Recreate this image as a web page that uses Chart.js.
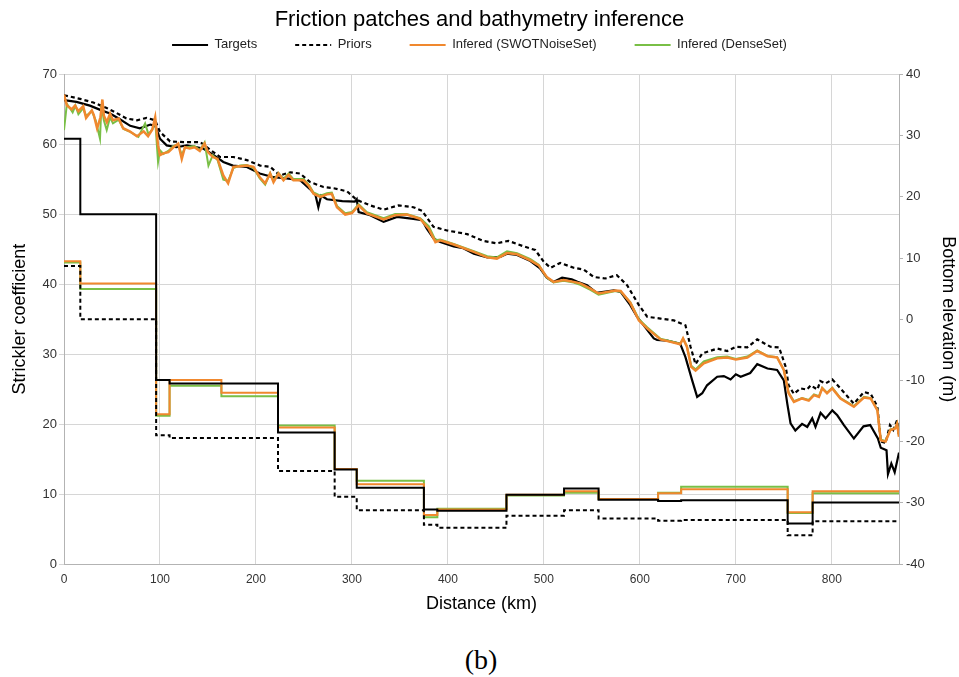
<!DOCTYPE html>
<html>
<head>
<meta charset="utf-8">
<title>Friction patches and bathymetry inference</title>
<script src="https://cdn.jsdelivr.net/npm/chart.js@4.4.1/dist/chart.umd.min.js"></script>
<style>
  body { margin: 0; background: #fff; }
  #wrap { position: relative; width: 959px; height: 625px; }
  #tag { position: absolute; left: 0; top: 643px; width: 962px; text-align: center;
         font-family: "Liberation Serif", serif; font-size: 28px; line-height: 34px; color: #000; }
</style>
</head>
<body>
<div id="wrap"><canvas id="chart"></canvas></div>
<div id="tag">(b)</div>
<script>
// friction patches: start of each patch (km), last entry is the end of the river
const patchKm = [0, 17, 96, 110, 164, 223, 282, 305, 375, 389, 461, 521, 557, 619, 643, 754, 780, 870];
// Strickler coefficient per patch
const targetK = [60.8, 50, 26.3, 25.8, 25.8, 18.8, 13.5, 10.9, 7.8, 7.6, 9.9, 10.8, 9.2, 9.0, 9.1, 5.8, 8.8];
const priorK  = [42.6, 35, 18.4, 18.0, 18.0, 13.3, 9.6, 7.7, 5.6, 5.2, 6.9, 7.7, 6.5, 6.2, 6.3, 4.1, 6.1];
const swotK   = [43.3, 40.1, 21.4, 26.3, 24.5, 19.5, 13.6, 11.4, 7.0, 7.8, 9.9, 10.4, 9.3, 10.1, 10.7, 7.4, 10.4];
const denseK  = [43.1, 39.3, 21.2, 25.5, 24.0, 19.8, 13.6, 11.9, 6.7, 7.9, 9.8, 10.2, 9.3, 10.2, 11.05, 7.3, 10.1];

// bottom elevation profiles [km, m]
const targetBed = [[0,35.8],[13,35.5],[27,34.9],[41,34.0],[48,33.6],[57,32.8],[69,31.6],[79,31.2],[90,31.8],[95,31.6],
  [100,29.5],[107,28.4],[117,28.1],[128,28.4],[145,27.9],[156,26.8],[166,25.7],[176,25.1],[190,24.9],[204,23.8],
  [218,23.2],[232,23.0],[246,22.7],[256,21.3],[262,20.3],[265,18.3],[268,20.2],[274,19.6],[290,19.3],[303,19.2],
  [305,19.6],[307,17.5],[319,17.0],[333,15.9],[347,16.7],[364,16.4],[373,16.2],[378,14.8],[385,13.2],[392,12.6],
  [406,11.9],[416,11.6],[427,10.7],[441,10.1],[455,10.2],[461.6,10.7],[472,10.5],[486,9.5],[496,8.3],[503,6.8],
  [510,6.1],[519,6.8],[529,6.5],[535,6.1],[545,5.55],[555,4.3],[573,4.7],[580,4.45],[590,2.3],[597,0.4],
  [604,-1.0],[614.5,-3.15],[618,-3.4],[628.5,-3.5],[642,-4.0],[647.5,-6.2],[654.5,-10.0],[659.7,-12.7],[665,-12.1],[670,-10.8],
  [680.6,-9.4],[687.5,-9.3],[694.5,-9.85],[700,-9.0],[705,-9.4],[715,-8.8],[722.3,-7.35],[733,-8.05],[743,-8.3],[750,-10.0],
  [753.6,-13.8],[757,-17.0],[762,-18.2],[769,-17.1],[774.4,-17.6],[779.6,-16.2],[783,-17.6],[788.3,-15.3],[793.5,-16.2],[800.5,-14.9],
  [805.7,-15.7],[812.6,-17.3],[823,-19.5],[833,-17.5],[840,-17.3],[848,-19.5],[851,-21.0],[857,-21.4],[858.5,-25.3],[862,-23.6],
  [865.5,-25.0],[870,-21.8]];
const priorBed = [[0,36.6],[16.7,36.0],[30.6,35.4],[44.5,34.5],[53,33.85],[65,32.8],[76,32.5],[86,32.9],[95,32.5],[100,30.6],
  [110.5,29.05],[124.4,28.95],[142,28.95],[150.5,27.9],[162.7,26.5],[176.5,26.5],[190.5,26.0],[204.4,25.1],[214.8,24.9],[225,23.5],
  [235.7,24.0],[246,23.8],[256.5,22.4],[270.4,21.6],[281,21.4],[294.8,20.9],[305,19.5],[319,18.6],[333,17.9],[348.6,18.6],
  [364,18.3],[373,17.7],[385,15.1],[399,14.5],[420,13.9],[437,12.8],[451,12.4],[463,12.8],[479,11.9],[491,11.3],
  [500,9.35],[507,8.4],[517,9.2],[531,8.4],[541.5,8.1],[552,6.9],[564,6.65],[576,7.2],[586.7,5.55],[599,2.3],
  [607.6,0.4],[621.5,0.1],[635.4,-0.2],[647.5,-1.0],[652.8,-4.5],[658,-7.35],[665,-5.6],[680.6,-4.8],[691,-5.2],[700,-4.5],
  [712,-4.6],[722.3,-3.3],[736,-4.5],[745,-4.6],[752,-7.8],[755,-10.8],[760.5,-12.2],[767.5,-11.3],[774,-11.5],[778,-10.8],
  [785,-11.5],[788,-10.1],[793.5,-10.5],[800.5,-9.85],[809,-11.3],[819.6,-13.2],[823,-13.8],[833.5,-11.9],[840.5,-12.2],[847.5,-14.3],
  [851,-20.0],[856,-20.2],[860.6,-17.3],[864,-18.1],[868,-16.5],[870,-19.2]];
const swotBed = [[0,36.7],[3,34.9],[8,34.3],[11.5,34.9],[15,34.0],[20,34.8],[23,32.9],[29,34.1],[31,33.4],[34.5,31.2],
  [38,33.0],[40,35.9],[41.5,33.3],[44.6,32.2],[48,33.6],[51,32.5],[57,32.8],[61.6,31.2],[68.5,30.7],[76,29.9],
  [83,30.7],[87.6,29.9],[92,31.0],[95,33.0],[98,28.4],[100,26.8],[103.5,27.1],[108.7,27.3],[114,28.1],[119,28.7],
  [122.7,26.2],[126,28.1],[131,27.9],[136,28.1],[141.5,27.5],[146.5,28.7],[150,27.3],[155,26.5],[160,26.2],[166,23.5],
  [171,22.2],[176.5,24.9],[183.5,25.0],[190.5,25.1],[197.5,24.9],[204,23.2],[209.6,22.2],[214.8,23.8],[218.3,22.4],[223.5,23.8],
  [228.7,22.7],[234,23.6],[239,22.7],[249.5,22.7],[255,21.8],[260,20.5],[267,20.0],[274,20.4],[279,20.5],[284.4,18.3],
  [293,17.1],[300,17.35],[307,18.6],[315.6,17.3],[333,16.3],[345,17.0],[357,17.1],[371,16.4],[380,14.8],[387,12.6],
  [392,12.9],[406,12.2],[427,11.0],[441,10.1],[451,9.9],[461.6,10.8],[472,10.6],[486,9.6],[494.6,8.8],[503,6.9],
  [510,6.1],[520.6,6.4],[531,6.1],[538,5.85],[548.5,5.0],[557,4.2],[574.6,4.7],[580,4.6],[590,2.7],[599,-0.2],
  [607.6,-1.5],[621.5,-3.3],[632,-3.7],[642,-4.1],[645,-3.15],[649,-4.5],[653.5,-7.8],[658,-8.4],[666.6,-7.2],[680.6,-6.4],
  [691,-6.25],[700,-6.6],[712,-6.25],[722.3,-5.2],[733,-6.05],[743,-6.25],[750,-8.3],[755,-12.1],[760.5,-13.5],[769,-12.95],
  [776,-13.3],[781.4,-12.4],[786.6,-12.7],[790,-11.3],[795,-12.1],[800.5,-11.3],[809,-12.95],[823,-14.3],[833.5,-12.8],[840.5,-12.95],
  [847.5,-14.9],[851,-19.8],[856,-20.0],[861,-18.1],[866,-17.85],[868,-17.1],[870,-19.2]];
const denseBed = [[0,30.9],[3,35.2],[6,34.5],[9,33.8],[12,34.9],[15,33.5],[20,34.5],[23,33.2],[29,34.0],[33,32.5],
  [37.5,29.5],[39,35.0],[41.5,32.5],[44.5,30.9],[48,33.0],[51,32.0],[57,32.6],[62,31.1],[69,30.6],[77.5,29.8],
  [84.5,32.0],[88,30.2],[92,31.0],[95,32.5],[98,25.7],[100,27.6],[103.5,27.0],[108.7,27.5],[114,28.3],[119,28.6],
  [122.7,26.8],[126,28.0],[131,28.2],[136,28.3],[141.5,27.6],[146.5,28.9],[150.5,25.1],[155,26.8],[160,26.0],[166,22.8],
  [171,22.6],[176.5,24.7],[183.5,25.1],[190.5,25.2],[197.5,24.7],[204,23.0],[209.6,22.0],[214.8,23.9],[218.3,22.6],[223.5,23.9],
  [228.7,22.9],[234,23.8],[239,22.9],[249.5,22.9],[255,22.0],[260,20.7],[267,20.2],[274,20.6],[279,20.7],[284.4,18.5],
  [293,17.3],[300,17.5],[307,18.8],[315.6,17.5],[333,16.5],[345,17.2],[357,17.2],[371,16.5],[380,15.2],[387,12.9],
  [392,13.0],[406,12.3],[427,11.1],[441,10.3],[451,10.1],[461.6,11.1],[472,10.8],[486,9.8],[494.6,8.9],[503,6.8],
  [510,6.0],[520.6,6.3],[531,6.0],[538,5.6],[548.5,4.8],[557,4.0],[574.6,4.6],[580,4.5],[590,2.8],[599,0.0],
  [607.6,-1.3],[621.5,-3.2],[632,-3.6],[642,-4.0],[645,-3.2],[649,-4.4],[653.5,-7.6],[658,-8.2],[666.6,-6.9],[680.6,-6.2],
  [691,-6.1],[700,-6.5],[712,-6.1],[722.3,-5.1],[733,-6.0],[743,-6.2],[750,-8.3],[755,-12.0],[760.5,-13.4],[769,-12.9],
  [776,-13.2],[781.4,-12.3],[786.6,-12.6],[790,-11.2],[795,-12.0],[800.5,-11.2],[809,-12.9],[823,-14.2],[833.5,-12.7],[840.5,-12.9],
  [847.5,-14.8],[851,-19.7],[856,-19.9],[861,-18.0],[866,-17.8],[868,-17.0],[870,-19.1]];

const BLACK = "#000000";
const ORANGE = "#f0882e";
const GREEN = "#79bf46";
const GRID = "#d6d6d6";
const AXIS = "#b3b3b3";

// one point per patch start, the last patch is carried to the end
const steps = (values) => patchKm.map((km, i) => ({ x: km, y: values[Math.min(i, values.length - 1)] }));
const profile = (pairs) => pairs.map((p) => ({ x: p[0], y: p[1] }));

const lineDs = (label, data, color, axis, extra) => Object.assign({
  label: label,
  data: data,
  yAxisID: axis,
  borderColor: color,
  backgroundColor: color,
  borderWidth: 2,
  pointRadius: 0,
  fill: false,
  tension: 0,
}, extra || {});

//give the legend the room the reference leaves above the plot
const legendRoom = {
  id: "legendRoom",
  beforeInit(chart) {
    const fit = chart.legend.fit;
    chart.legend.fit = function () {
      fit.call(this);
      this.height = 74;
    };
  },
};

Chart.defaults.font.family = "'Liberation Sans', Arial, sans-serif";
Chart.defaults.color = "#333";

new Chart(document.getElementById("chart"), {
  type: "line",
  plugins: [legendRoom],
  data: {
    datasets: [
      lineDs("Targets", steps(targetK), BLACK, "yK", { stepped: "before" }),
      lineDs("Priors", steps(priorK), BLACK, "yK", { stepped: "before", borderDash: [4, 3] }),
      lineDs("Infered (SWOTNoiseSet)", steps(swotK), ORANGE, "yK", { stepped: "before" }),
      lineDs("Infered (DenseSet)", steps(denseK), GREEN, "yK", { stepped: "before" }),
      lineDs("Infered (SWOTNoiseSet) bed", profile(swotBed), ORANGE, "yZ", { borderWidth: 2.5 }),
      lineDs("Infered (DenseSet) bed", profile(denseBed), GREEN, "yZ"),
      lineDs("Targets bed", profile(targetBed), BLACK, "yZ", { borderWidth: 2.2 }),
      lineDs("Priors bed", profile(priorBed), BLACK, "yZ", { borderWidth: 2.2, borderDash: [4, 3] }),
    ],
  },
  options: {
    responsive: true,
    maintainAspectRatio: false,
    animation: false,
    layout: { padding: 0 },
    plugins: {
      tooltip: { enabled: false },
      title: {
        display: true,
        text: "Friction patches and bathymetry inference",
        color: "#000",
        font: { size: 22, weight: "normal" },
        padding: { top: 7, bottom: -33 },
      },
      legend: {
        display: true,
        labels: {
          filter: (item) => item.datasetIndex < 4,
          //point style items lose the dash, put it back from the dataset
          generateLabels: (chart) => Chart.defaults.plugins.legend.labels.generateLabels(chart).map((item) => {
            item.lineDash = chart.data.datasets[item.datasetIndex].borderDash || [];
            return item;
          }),
          usePointStyle: true,
          pointStyle: "line",
          pointStyleWidth: 36,
          padding: 38,
          color: "#222",
          font: { size: 13 },
        },
      },
    },
    scales: {
      x: {
        type: "linear",
        min: 0,
        max: 870,
        afterFit: (s) => { s.height = 61; },
        ticks: { stepSize: 100, includeBounds: false, padding: 8, font: { size: 12 }, color: "#333" },
        grid: { color: GRID, drawTicks: false },
        border: { color: AXIS },
        title: { display: true, text: "Distance (km)", color: "#000", font: { size: 18 }, padding: { bottom: 10 } },
      },
      yK: {
        position: "left",
        min: 0,
        max: 70,
        afterFit: (s) => { s.width = 64; },
        ticks: { stepSize: 10, padding: 2, font: { size: 13 }, color: "#333" },
        grid: { color: GRID, tickLength: 5 },
        border: { color: AXIS },
        title: { display: true, text: "Strickler coefficient", color: "#000", font: { size: 18 }, padding: { top: 9 } },
      },
      yZ: {
        position: "right",
        min: -40,
        max: 40,
        afterFit: (s) => { s.width = 60; },
        ticks: { stepSize: 10, padding: 3, font: { size: 13 }, color: "#333" },
        grid: { drawOnChartArea: false, color: AXIS, tickLength: 4 },
        border: { color: AXIS },
        title: { display: true, text: "Bottom elevation (m)", color: "#000", font: { size: 18 }, padding: { top: 0 } },
      },
    },
  },
});
</script>
</body>
</html>
